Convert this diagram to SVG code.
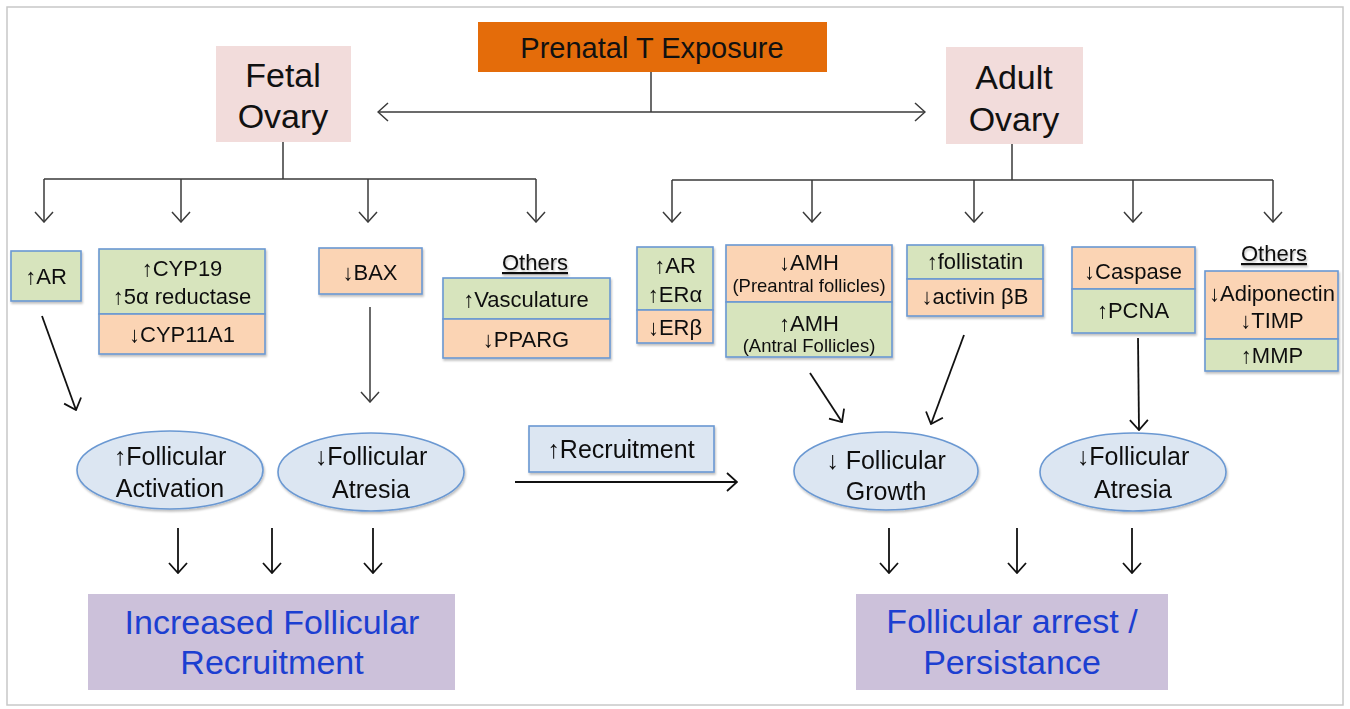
<svg xmlns="http://www.w3.org/2000/svg" width="1350" height="709" viewBox="0 0 1350 709">
<defs>
<style>
text{font-family:"Liberation Sans",Arial,sans-serif;fill:#111;text-anchor:middle}
.t22{font-size:22px}
.t18{font-size:18.5px}
.t25{font-size:25px}
.big{font-size:34px}
.blue{font-size:34px;fill:#1C3FD1}
.g{fill:#D7E4BD;stroke:#6A98D2;stroke-width:1.6}
.o{fill:#FBD4B4;stroke:#6A98D2;stroke-width:1.6}
.el{fill:#DCE6F2;stroke:#6A98D2;stroke-width:1.6}
.pink{fill:#F2DCDB}
.purple{fill:#CCC1DA}
.ln{stroke:#3a3a3a;stroke-width:1.5;fill:none}
.lk{stroke:#111;stroke-width:1.8;fill:none}
</style>
<marker id="arr" markerUnits="userSpaceOnUse" viewBox="0 0 12 20" markerWidth="12" markerHeight="20" refX="11" refY="10" orient="auto-start-reverse">
<path d="M1,1 L11,10 L1,19" fill="none" stroke="#3a3a3a" stroke-width="1.5"/>
</marker>
<marker id="arrk" markerUnits="userSpaceOnUse" viewBox="0 0 12 20" markerWidth="12" markerHeight="20" refX="11" refY="10" orient="auto">
<path d="M1,1 L11,10 L1,19" fill="none" stroke="#111" stroke-width="1.8"/>
</marker>
<filter id="sh" x="-10%" y="-10%" width="130%" height="140%">
<feDropShadow dx="1" dy="2" stdDeviation="1.2" flood-color="#000" flood-opacity="0.25"/>
</filter>
</defs>
<rect x="0" y="0" width="1350" height="709" fill="#fff"/>
<rect x="7" y="7" width="1336" height="698" fill="#fff" stroke="#c8c8c8" stroke-width="1.5"/>

<g id="connectors">
<path class="ln" d="M651,72 V112"/>
<path class="ln" d="M378,112 H925" marker-start="url(#arr)" marker-end="url(#arr)"/>
<path class="ln" d="M283,142 V179 M44,179 H536 M1012,144 V180 M672,180 H1273"/>
<path class="ln" d="M44,179 V222" marker-end="url(#arr)"/>
<path class="ln" d="M181,179 V222" marker-end="url(#arr)"/>
<path class="ln" d="M368,179 V222" marker-end="url(#arr)"/>
<path class="ln" d="M536,179 V222" marker-end="url(#arr)"/>
<path class="ln" d="M672,180 V222" marker-end="url(#arr)"/>
<path class="ln" d="M812,180 V222" marker-end="url(#arr)"/>
<path class="ln" d="M974,180 V222" marker-end="url(#arr)"/>
<path class="ln" d="M1133,180 V222" marker-end="url(#arr)"/>
<path class="ln" d="M1273,180 V222" marker-end="url(#arr)"/>
<path class="lk" d="M42,316 L76,410" marker-end="url(#arrk)"/>
<path class="ln" d="M370,307 V402" marker-end="url(#arr)"/>
<path class="lk" d="M810,373 L842,422" marker-end="url(#arrk)"/>
<path class="lk" d="M964,335 L931,424" marker-end="url(#arrk)"/>
<path class="lk" d="M1138,338 L1139,430" marker-end="url(#arrk)"/>
<path class="lk" d="M515,482 H737" marker-end="url(#arrk)"/>
<path class="lk" d="M178,528 V573" marker-end="url(#arrk)"/>
<path class="lk" d="M272,528 V573" marker-end="url(#arrk)"/>
<path class="lk" d="M373,528 V573" marker-end="url(#arrk)"/>
<path class="lk" d="M889,528 V573" marker-end="url(#arrk)"/>
<path class="lk" d="M1017,528 V573" marker-end="url(#arrk)"/>
<path class="lk" d="M1132,528 V573" marker-end="url(#arrk)"/>
</g>

<g id="prenatal">
<rect x="478" y="22" width="349" height="50" fill="#E46C0A"/>
<text x="652" y="58" style="font-size:29px">Prenatal T Exposure</text>
</g>
<g id="fetal-ovary">
<rect class="pink" x="216" y="46" width="135" height="96"/>
<text class="big" x="283" y="87">Fetal</text>
<text class="big" x="283" y="128">Ovary</text>
</g>
<g id="adult-ovary">
<rect class="pink" x="946" y="47" width="137" height="97"/>
<text class="big" x="1014" y="89">Adult</text>
<text class="big" x="1014" y="131">Ovary</text>
</g>

<g id="f-ar" filter="url(#sh)">
<rect class="g" x="11" y="251" width="70" height="50"/>
<text class="t22" x="46" y="284">↑AR</text>
</g>
<g id="f-cyp" filter="url(#sh)">
<rect class="g" x="99" y="249" width="166" height="65"/>
<rect class="o" x="99" y="314" width="166" height="40"/>
<text class="t22" x="182" y="276">↑CYP19</text>
<text class="t22" x="182" y="304">↑5α reductase</text>
<text class="t22" x="182" y="342">↓CYP11A1</text>
</g>
<g id="f-bax" filter="url(#sh)">
<rect class="o" x="319" y="248" width="103" height="46"/>
<text class="t22" x="370" y="280">↓BAX</text>
</g>
<g id="f-others" filter="url(#sh)">
<text class="t22" x="535" y="270" text-decoration="underline">Others</text>
<rect class="g" x="443" y="278" width="167" height="41"/>
<rect class="o" x="443" y="319" width="167" height="39"/>
<text class="t22" x="526" y="307">↑Vasculature</text>
<text class="t22" x="526" y="347">↓PPARG</text>
</g>

<g id="a-ar" filter="url(#sh)">
<rect class="g" x="637" y="247" width="76" height="63"/>
<rect class="o" x="637" y="310" width="76" height="33"/>
<text class="t22" x="675" y="273">↑AR</text>
<text class="t22" x="675" y="302">↑ERα</text>
<text class="t22" x="675" y="335">↓ERβ</text>
</g>
<g id="a-amh" filter="url(#sh)">
<rect class="o" x="726" y="245" width="166" height="57"/>
<rect class="g" x="726" y="302" width="166" height="55"/>
<text class="t22" x="809" y="270">↓AMH</text>
<text class="t18" x="809" y="292">(Preantral follicles)</text>
<text class="t22" x="809" y="331">↑AMH</text>
<text class="t18" x="809" y="352">(Antral Follicles)</text>
</g>
<g id="a-foll" filter="url(#sh)">
<rect class="g" x="907" y="245" width="136" height="34"/>
<rect class="o" x="907" y="279" width="136" height="37"/>
<text class="t22" x="975" y="269">↑follistatin</text>
<text class="t22" x="975" y="304">↓activin βB</text>
</g>
<g id="a-casp" filter="url(#sh)">
<rect class="o" x="1072" y="247" width="123" height="42"/>
<rect class="g" x="1072" y="289" width="123" height="44"/>
<text class="t22" x="1133" y="279">↓Caspase</text>
<text class="t22" x="1133" y="318">↑PCNA</text>
</g>
<g id="a-others" filter="url(#sh)">
<text class="t22" x="1274" y="261" text-decoration="underline">Others</text>
<rect class="o" x="1205" y="271" width="133" height="68"/>
<rect class="g" x="1205" y="339" width="133" height="32"/>
<text class="t22" x="1272" y="301">↓Adiponectin</text>
<text class="t22" x="1272" y="328">↓TIMP</text>
<text class="t22" x="1272" y="363">↑MMP</text>
</g>

<g id="activation" filter="url(#sh)">
<ellipse class="el" cx="170" cy="470" rx="93" ry="39"/>
<text class="t25" x="170" y="465">↑Follicular</text>
<text class="t25" x="170" y="497">Activation</text>
</g>
<g id="atresia-l" filter="url(#sh)">
<ellipse class="el" cx="371" cy="472" rx="93" ry="39"/>
<text class="t25" x="371" y="465">↓Follicular</text>
<text class="t25" x="371" y="498">Atresia</text>
</g>
<g id="recruitment" filter="url(#sh)">
<rect class="el" x="529" y="426" width="185" height="46"/>
<text class="t25" x="621" y="458">↑Recruitment</text>
</g>
<g id="growth" filter="url(#sh)">
<ellipse class="el" cx="886" cy="471" rx="92" ry="39"/>
<text class="t25" x="886" y="469">↓ Follicular</text>
<text class="t25" x="886" y="500">Growth</text>
</g>
<g id="atresia-r" filter="url(#sh)">
<ellipse class="el" cx="1133" cy="472" rx="93" ry="39"/>
<text class="t25" x="1133" y="465">↓Follicular</text>
<text class="t25" x="1133" y="498">Atresia</text>
</g>

<g id="increased">
<rect class="purple" x="88" y="594" width="367" height="96"/>
<text class="blue" x="272" y="634">Increased Follicular</text>
<text class="blue" x="272" y="674">Recruitment</text>
</g>
<g id="arrest">
<rect class="purple" x="856" y="594" width="312" height="96"/>
<text class="blue" x="1012" y="633">Follicular arrest /</text>
<text class="blue" x="1012" y="674">Persistance</text>
</g>
</svg>
